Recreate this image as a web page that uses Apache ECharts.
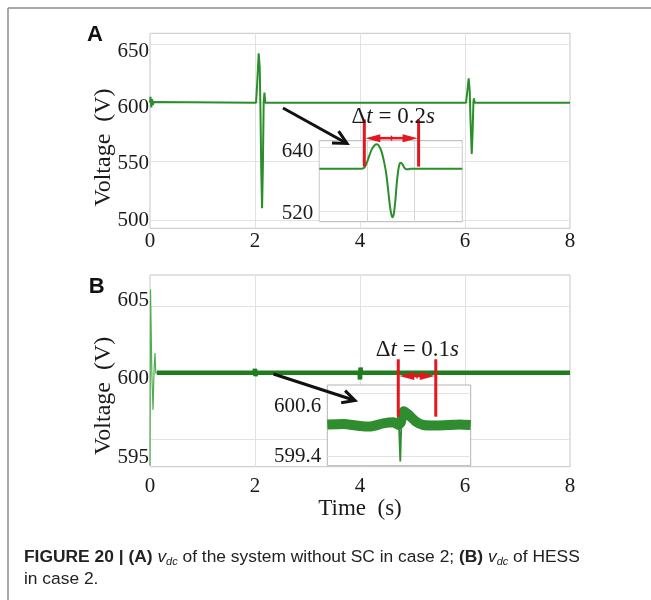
<!DOCTYPE html>
<html><head><meta charset="utf-8">
<script src="https://cdn.jsdelivr.net/npm/echarts@6/dist/echarts.min.js"></script>
<style>html,body{margin:0;padding:0;background:#fff}#c{width:651px;height:600px}</style>
</head><body><div id="c"></div>
<script>
// ---------- DATA ----------
// Panel A: vdc without SC (time s, voltage V)
const timeA = [0, 0.01, 0.025, 0.04, 0.055, 0.07, 0.09, 2.02, 2.04, 2.07, 2.09, 2.105, 2.12, 2.135, 2.15, 2.165, 2.18, 2.195, 2.21, 2.23, 6.02, 6.045, 6.07, 6.09, 6.105, 6.128, 6.145, 6.16, 6.17, 6.185, 6.2, 6.22, 8];
const voltA = [600, 605, 596, 603, 598, 600.5, 600, 600, 615, 642, 630, 590, 540, 510, 545, 600, 608.5, 600, 599, 600, 600, 610, 620.8, 610, 585, 556.3, 575, 600, 603.7, 600, 599.5, 600, 600];
// Panel A inset: zoom on the t = 2 s event (time in ms inside the window, voltage V)
const insetTimeA = [0, 160, 170, 180, 190, 200, 210, 217, 225, 235, 245, 253, 260, 267, 272, 276, 281, 287, 293, 299, 304, 308, 313, 320, 328, 336, 345, 540];
const insetVoltA = [600, 600, 602, 612, 626, 638, 644.5, 645.6, 643, 632, 612, 590, 560, 530, 515, 509.6, 515, 540, 575, 600, 610, 611.3, 609, 603, 599, 599, 600, 600];
// Panel B: vdc of HESS, start-up transient (thin trace)
const timeB0 = [0, 0.01, 0.035, 0.057, 0.08, 0.095, 0.11, 0.13];
const voltB0 = [593, 606.3, 600, 597.2, 600.5, 601.5, 600, 600];
// Panel B: steady trace (thick)
const timeB = [0.13, 1.99, 2.0, 2.01, 2.02, 3.99, 4.0, 4.01, 4.02, 8];
const voltB = [600, 600, 600.3, 599.75, 600, 600, 599.5, 600.4, 600, 600];
// Panel B inset: noisy band centre (ms, V) and the fast dip
const insetTimeB = [0, 43, 89, 116, 152, 180, 193, 200, 208, 220, 240, 261, 297, 334, 360, 390];
const insetVoltB = [600.01, 600.02, 599.98, 599.97, 600.03, 600.05, 600.0, 600.05, 600.26, 600.2, 600.07, 600.0, 599.99, 600.0, 600.01, 600.0];
const insetTimeBDip = [195, 197, 198.5, 200, 202];
const insetVoltBDip = [600.0, 599.6, 599.31, 599.7, 600.1];
// Tick labels
const xTicks = [0, 2, 4, 6, 8];
const yTicksA = [500, 550, 600, 650];
const yTicksB = [595, 600, 605];
const insetTicksA = [520, 640];
const insetTicksB = [599.4, 600.6];
const deltaA = '0.2';
const deltaB = '0.1';

// ---------- STYLE ----------
const SERIF = "'Liberation Serif','Times New Roman',serif";
const SANS = "'Liberation Sans',Arial,Helvetica,sans-serif";
const GREEN = '#2a8f2a';
const RED = '#e5161d';
const GRIDC = '#e2e2e2';
const zip = (a, b) => a.map((v, i) => [v, b[i]]);

const labelStyle = { fontFamily: SERIF, fontSize: 21, color: '#1a1a1a' };

function gridLines(xi, yi, vals, z) {
  return { type: 'line', xAxisIndex: xi, yAxisIndex: yi, data: [], silent: true, z: z,
    markLine: { silent: true, z: z, symbol: 'none', animation: false, label: { show: false },
      lineStyle: { color: GRIDC, width: 1, type: 'solid' },
      data: vals.map(v => ({ yAxis: v })) } };
}
function hiddenY(grid, min, max, z) {
  return { type: 'value', gridIndex: grid, min, max, position: 'left', z: z || 0,
    axisLabel: { show: false }, axisLine: { show: false }, axisTick: { show: false }, splitLine: { show: false } };
}
function labelY(grid, min, max, vals, margin, z) {
  return { type: 'value', gridIndex: grid, min, max, position: 'left', z: z || 0,
    axisLine: { show: false }, axisTick: { show: false }, splitLine: { show: false },
    axisLabel: Object.assign({ customValues: vals, margin: margin }, labelStyle) };
}

const option = {
  animation: false,
  backgroundColor: '#fff',
  grid: [
    { left: 150, top: 33.3, width: 420, height: 195, show: true, borderColor: '#c4c4c4', borderWidth: 1, z: 0 },
    { left: 150, top: 275, width: 420, height: 191.7, show: true, borderColor: '#c4c4c4', borderWidth: 1, z: 0 },
    { left: 319.3, top: 140.7, width: 143, height: 81, show: true, backgroundColor: '#fff', borderColor: '#b4b4b4', borderWidth: 1, z: 10 },
    { left: 327.3, top: 385, width: 143.4, height: 80.7, show: true, backgroundColor: '#fff', borderColor: '#b4b4b4', borderWidth: 1, z: 10 }
  ],
  xAxis: [
    { type: 'value', gridIndex: 0, min: 0, max: 8, interval: 2,
      axisLine: { show: false }, axisTick: { show: false },
      splitLine: { show: true, lineStyle: { color: GRIDC } },
      axisLabel: Object.assign({ margin: 3, customValues: xTicks }, labelStyle) },
    { type: 'value', gridIndex: 1, min: 0, max: 8, interval: 2,
      axisLine: { show: false }, axisTick: { show: false },
      splitLine: { show: true, lineStyle: { color: GRIDC } },
      axisLabel: Object.assign({ margin: 9, customValues: xTicks }, labelStyle),
      name: 'Time  (s)', nameLocation: 'middle', nameGap: 21,
      nameTextStyle: { fontFamily: SERIF, fontSize: 23, color: '#1a1a1a' } },
    { type: 'value', gridIndex: 2, min: 0, max: 540, interval: 180, z: 11,
      axisLine: { show: false }, axisTick: { show: false }, axisLabel: { show: false },
      splitLine: { show: true, lineStyle: { color: '#d6d6d6' } } },
    { type: 'value', gridIndex: 3, min: 0, max: 390, z: 11,
      axisLine: { show: false }, axisTick: { show: false }, axisLabel: { show: false },
      splitLine: { show: false } }
  ],
  yAxis: [
    hiddenY(0, 492.93, 659.12),
    labelY(0, 492.6, 666.4, yTicksA, 1),
    hiddenY(1, 592.906, 607.396),
    labelY(1, 594.429, 606.585, yTicksB, 1),
    hiddenY(2, 501.4, 652.3, 11),
    labelY(2, 503.8, 661.4, insetTicksA, 6, 11),
    hiddenY(3, 599.229, 600.757, 11),
    labelY(3, 599.167, 601.104, insetTicksB, 6, 11)
  ],
  series: [
    gridLines(0, 0, yTicksA, 1),
    { type: 'line', name: 'vdc A', xAxisIndex: 0, yAxisIndex: 0, data: zip(timeA, voltA), showSymbol: false, z: 2,
      lineStyle: { color: GREEN, width: 2 }, itemStyle: { color: GREEN } },
    gridLines(1, 2, yTicksB, 1),
    { type: 'line', name: 'vdc B start', xAxisIndex: 1, yAxisIndex: 2, data: zip(timeB0, voltB0), showSymbol: false, z: 2,
      lineStyle: { color: '#4fae4f', width: 1.2 }, itemStyle: { color: '#4fae4f' } },
    { type: 'line', name: 'vdc B', xAxisIndex: 1, yAxisIndex: 2, data: zip(timeB, voltB), showSymbol: false, z: 3,
      lineStyle: { color: '#1f7d1f', width: 4.5 }, itemStyle: { color: '#1f7d1f' } },
    gridLines(2, 4, insetTicksA, 11),
    { type: 'line', name: 'inset A', xAxisIndex: 2, yAxisIndex: 4, data: zip(insetTimeA, insetVoltA), showSymbol: false, z: 12,
      smooth: 0.3, lineStyle: { color: GREEN, width: 2 }, itemStyle: { color: GREEN } },
    gridLines(3, 6, insetTicksB, 11),
    { type: 'line', name: 'inset B', xAxisIndex: 3, yAxisIndex: 6, data: zip(insetTimeB, insetVoltB), showSymbol: false, z: 12,
      smooth: 0.2, lineStyle: { color: '#2f8c2f', width: 10 }, itemStyle: { color: '#2f8c2f' } },
    { type: 'line', name: 'inset B dip', xAxisIndex: 3, yAxisIndex: 6, data: zip(insetTimeBDip, insetVoltBDip), showSymbol: false, z: 13,
      lineStyle: { color: '#2f8c2f', width: 1.8 }, itemStyle: { color: '#2f8c2f' } }
  ]
};

const chart = echarts.init(document.getElementById('c'), null, { width: 651, height: 600 });
chart.setOption(option);

// ---------- ANNOTATIONS (positions converted from data coordinates) ----------
const px = (xi, yi, pt) => chart.convertToPixel({ xAxisIndex: xi, yAxisIndex: yi }, pt);
const els = [];
function txt(x, y, text, extra, rot) {
  const st = Object.assign({ text: text, x: 0, y: 0, align: 'center', verticalAlign: 'middle',
    textAlign: 'center', textVerticalAlign: 'middle', fill: '#1a1a1a' }, extra);
  els.push({ type: 'text', x: x, y: y, rotation: rot || 0, z: 100, style: st });
}
function line(x1, y1, x2, y2, color, w) {
  els.push({ type: 'line', z: 100, shape: { x1, y1, x2, y2 }, style: { stroke: color, lineWidth: w } });
}
function arrow(p0, p1, len, ang) {
  const a = Math.atan2(p1[1] - p0[1], p1[0] - p0[0]);
  const b1 = [p1[0] - len * Math.cos(a - ang), p1[1] - len * Math.sin(a - ang)];
  const b2 = [p1[0] - len * Math.cos(a + ang), p1[1] - len * Math.sin(a + ang)];
  line(p0[0], p0[1], p1[0], p1[1], '#111', 3);
  els.push({ type: 'polyline', z: 100, shape: { points: [b1, p1, b2] }, style: { stroke: '#111', lineWidth: 3, fill: null, lineJoin: 'miter' } });
}
function dblArrow(x1, x2, y, hl, hh) {
  line(x1 + hl - 2, y, x2 - hl + 2, y, RED, 2.5);
  els.push({ type: 'polygon', z: 100, shape: { points: [[x1 + 1, y], [x1 + 1 + hl, y - hh], [x1 + 1 + hl, y + hh]] }, style: { fill: RED } });
  els.push({ type: 'polygon', z: 100, shape: { points: [[x2 - 1, y], [x2 - 1 - hl, y - hh], [x2 - 1 - hl, y + hh]] }, style: { fill: RED } });
  line((x1 + x2) / 2, y - 2.5, (x1 + x2) / 2, y + 2.5, RED, 1.5);
}
function deltaLabel(x, y, val) {
  txt(x, y, '{n|Δ}{i|t}{n| = ' + val + '}{i|s}', {
    rich: { n: { fontFamily: SERIF, fontSize: 23, fill: '#1a1a1a' },
            i: { fontFamily: SERIF, fontSize: 23, fontStyle: 'italic', fill: '#1a1a1a' } } });
}
function markers(xi, yi, xs, base, top, arrowY, label, labelPt, hl, hh) {
  const l = px(xi, yi, [xs[0], base]), lt = px(xi, yi, [xs[0], top]);
  const r = px(xi, yi, [xs[1], base]), rt = px(xi, yi, [xs[1], top]);
  line(l[0], l[1], lt[0], lt[1], RED, 3);
  line(r[0], r[1], rt[0], rt[1], RED, 3);
  const ay = px(xi, yi, [xs[0], arrowY])[1];
  dblArrow(l[0], r[0], ay, hl, hh);
  const tp = px(xi, yi, labelPt);
  deltaLabel(tp[0], tp[1], label);
}
// Panel A
markers(2, 4, [170, 375], 604, 692, 657, deltaA, [279, 697], 15, 4);
arrow(px(0, 0, [2.533, 595.5]), px(0, 0, [3.752, 565.2]), 15, 0.47);
// Panel B
markers(3, 6, [193, 295], 600.157, 601.244, 600.927, deltaB, [245, 601.42], 15, 4);
arrow(px(1, 2, [2.352, 599.91]), px(1, 2, [3.905, 597.91]), 14, 0.47);

// Panel letters and axis titles
txt(95, 35, 'A', { fontFamily: SANS, fontSize: 22, fontWeight: 'bold', fill: '#111' });
txt(96.7, 286.5, 'B', { fontFamily: SANS, fontSize: 22, fontWeight: 'bold', fill: '#111' });
txt(103.3, 147.5, 'Voltage  (V)', { fontFamily: SERIF, fontSize: 24 }, Math.PI / 2);
txt(103.3, 395.8, 'Voltage  (V)', { fontFamily: SERIF, fontSize: 24 }, Math.PI / 2);

// Outer frame lines
line(8, 8, 651, 8, '#8c8c8c', 1.5);
line(8, 8, 8, 600, '#8c8c8c', 1.5);

// Caption
const capRich = {
  b: { fontFamily: SANS, fontSize: 17.4, fontWeight: 'bold', fill: '#222', lineHeight: 20 },
  n: { fontFamily: SANS, fontSize: 17.4, fill: '#222', lineHeight: 20 },
  i: { fontFamily: SANS, fontSize: 17.4, fontStyle: 'italic', fill: '#222', lineHeight: 20 },
  s: { fontFamily: SANS, fontSize: 11, fontStyle: 'italic', fill: '#222', lineHeight: 11, verticalAlign: 'bottom' }
};
els.push({ type: 'text', x: 24, y: 557, z: 100, style: { x: 0, y: 0, align: 'left', verticalAlign: 'middle', textAlign: 'left', textVerticalAlign: 'middle',
  text: '{b|FIGURE 20 | (A)}{n| }{i|v}{s|dc}{n| of the system without SC in case 2; }{b|(B)}{n| }{i|v}{s|dc}{n| of HESS}', rich: capRich } });
els.push({ type: 'text', x: 24, y: 579, z: 100, style: { x: 0, y: 0, align: 'left', verticalAlign: 'middle', textAlign: 'left', textVerticalAlign: 'middle',
  text: '{n|in case 2.}', rich: capRich } });

chart.setOption({ graphic: els });
</script>
</body></html>
